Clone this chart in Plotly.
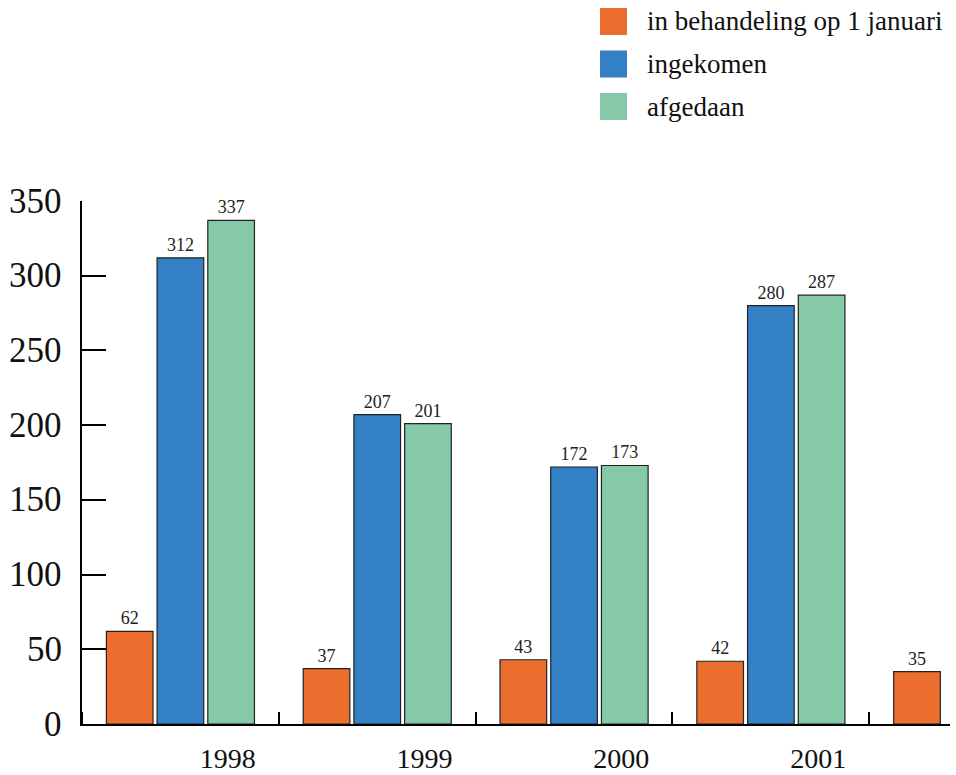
import plotly.graph_objects as go

# Caseload per year
years = ["1998", "1999", "2000", "2001"]
in_behandeling = [62, 37, 43, 42, 35]   # last value: carried into the next year
ingekomen = [312, 207, 172, 280]
afgedaan = [337, 201, 173, 287]
y_ticks = [0, 50, 100, 150, 200, 250, 300, 350]

series_names = ["in behandeling op 1 januari", "ingekomen", "afgedaan"]
colors = ["#EB6E2F", "#3380C4", "#86C9A8"]

FONT = "Liberation Serif"
W, H = 956, 775
ML, MR, MT, MB = 82, 6, 201, 51

fig = go.Figure()
for name, vals, col in zip(series_names, [in_behandeling, ingekomen, afgedaan], colors):
    fig.add_trace(go.Bar(
        x=list(range(len(vals))), y=vals, name=name,
        marker=dict(color=col, line=dict(color="#222222", width=1.2)),
        text=[str(v) for v in vals], textposition="outside",
        textfont=dict(family=FONT, size=18, color="#222222"),
        cliponaxis=False, showlegend=False,
    ))

# Custom legend: large colour swatches with labels, top right
def px_to_paper(px, py):
    return (px - ML) / (W - ML - MR), (H - MB - py) / (H - MT - MB)

shapes, annotations = [], []
row_tops = [8, 50.5, 93]
for name, col, top in zip(series_names, colors, row_tops):
    x0, y1 = px_to_paper(600, top)
    x1, y0 = px_to_paper(627, top + 27)
    shapes.append(dict(type="rect", xref="paper", yref="paper", x0=x0, x1=x1, y0=y0, y1=y1,
                       fillcolor=col, line=dict(width=0)))
    tx, ty = px_to_paper(645, top + 13.5)
    annotations.append(dict(xref="paper", yref="paper", x=tx, y=ty, text=name, showarrow=False,
                            xanchor="left", yanchor="middle",
                            font=dict(family=FONT, size=27, color="#111111")))

# Value-axis labels, placed left of the axis line
for v in y_ticks:
    annotations.append(dict(xref="paper", yref="y", x=0, y=v, text=str(v), showarrow=False,
                            xanchor="right", yanchor="middle", xshift=-18,
                            font=dict(family=FONT, size=35, color="#111111")))

fig.update_layout(
    width=W, height=H,
    margin=dict(l=ML, r=MR, t=MT, b=MB, autoexpand=False),
    plot_bgcolor="white", paper_bgcolor="white",
    barmode="group", bargap=0.227, bargroupgap=0.08,
    shapes=shapes, annotations=annotations,
    font=dict(family=FONT, color="#111111"),
    xaxis=dict(
        range=[-0.5, 3.91], automargin=False,
        tickvals=[i + 0.24 for i in range(len(years))], ticktext=years,
        ticks="", showgrid=False, zeroline=False,
        showline=True, linecolor="black", linewidth=2,
        tickfont=dict(family=FONT, size=28, color="#111111"),
        ticklabelstandoff=8,
        minor=dict(tick0=0.5, dtick=1, ticks="inside", ticklen=12, tickwidth=2,
                   tickcolor="black", showgrid=False),
    ),
    yaxis=dict(
        range=[0, 350], tickvals=y_ticks, automargin=False,
        showticklabels=False,
        ticks="inside", ticklen=24, tickwidth=2, tickcolor="black",
        showgrid=False, zeroline=False,
        showline=True, linecolor="black", linewidth=2,
    ),
)

fig.write_html("out.html")
